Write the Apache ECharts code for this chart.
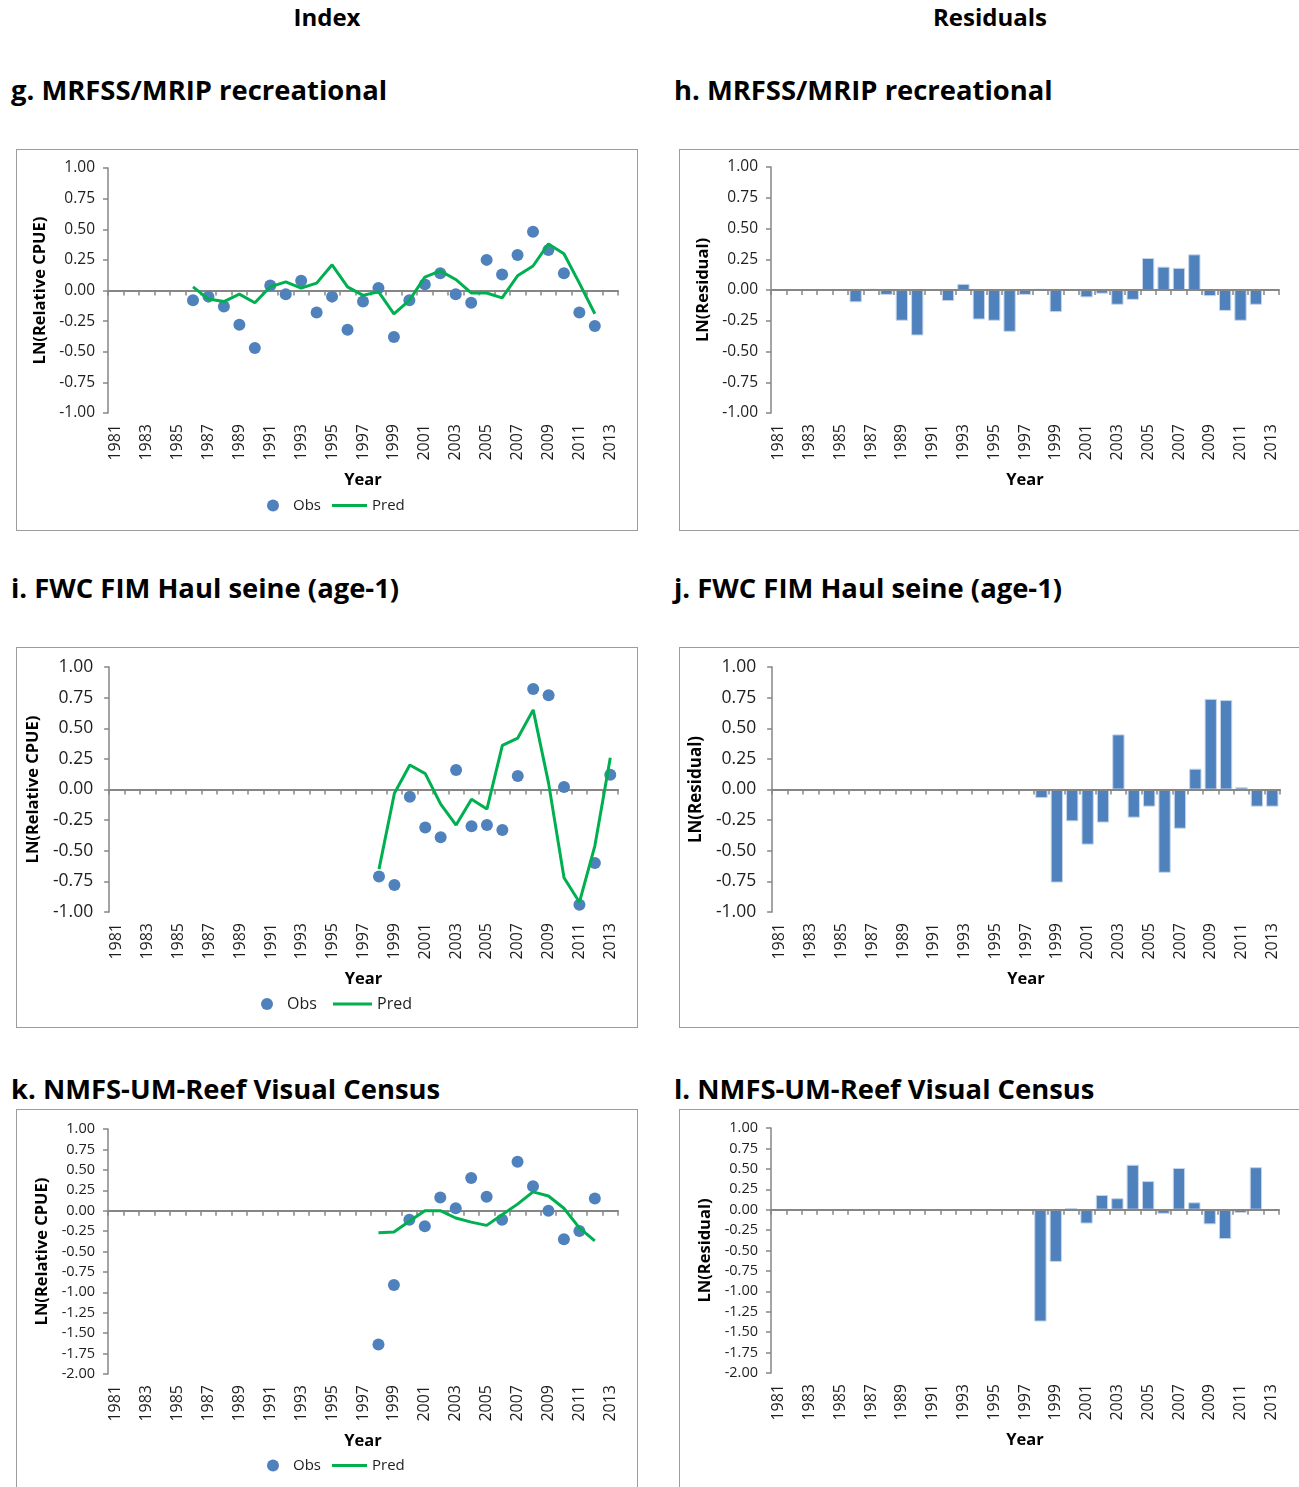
<!DOCTYPE html>
<html>
<head>
<meta charset="utf-8">
<script src="https://cdn.jsdelivr.net/npm/echarts@6/dist/echarts.min.js"></script>
<style>
body { margin: 0; background: #fff; font-family: 'Open Sans', sans-serif; }
#page { position: relative; width: 1299px; height: 1487px; overflow: hidden; }
.hd { position: absolute; width: 240px; text-align: center; font-weight: bold; font-size: 24px; line-height: 30px; top: 2px; color: #000; }
.ttl { position: absolute; font-weight: bold; font-size: 27.4px; line-height: 34px; white-space: nowrap; color: #000; }
.box { position: absolute; border: 1px solid #9c9c9c; box-sizing: border-box; width: 622px; }
</style>
</head>
<body>
<div id="page">
  <div class="hd" style="left:207px">Index</div>
  <div class="hd" style="left:870px">Residuals</div>

  <div class="ttl" style="left:11px;top:73px">g. MRFSS/MRIP recreational</div>
  <div class="ttl" style="left:674px;top:73px">h. MRFSS/MRIP recreational</div>
  <div class="ttl" style="left:11px;top:571px">i. FWC FIM Haul seine (age-1)</div>
  <div class="ttl" style="left:674px;top:571px">j. FWC FIM Haul seine (age-1)</div>
  <div class="ttl" style="left:11px;top:1072px">k. NMFS-UM-Reef Visual Census</div>
  <div class="ttl" style="left:674px;top:1072px">l. NMFS-UM-Reef Visual Census</div>

  <div class="box" id="g" style="left:16px;top:149px;height:382px"></div>
  <div class="box" id="h" style="left:679px;top:149px;height:382px"></div>
  <div class="box" id="i" style="left:16px;top:647px;height:381px"></div>
  <div class="box" id="j" style="left:679px;top:647px;height:381px"></div>
  <div class="box" id="k" style="left:16px;top:1109px;height:400px"></div>
  <div class="box" id="l" style="left:679px;top:1109px;height:400px"></div>
</div>
<script>
// years on the category axis
var years = ['1981','1982','1983','1984','1985','1986','1987','1988','1989','1990','1991',
  '1992','1993','1994','1995','1996','1997','1998','1999','2000','2001','2002','2003',
  '2004','2005','2006','2007','2008','2009','2010','2011','2012','2013'];

// g/h MRFSS/MRIP recreational, 1986-2012
var recStart = 1986;
var recObs = [-0.08, -0.05, -0.13, -0.28, -0.47, 0.04, -0.03, 0.08, -0.18, -0.05, -0.32, -0.09, 0.02,
  -0.38, -0.08, 0.05, 0.14, -0.03, -0.10, 0.25, 0.13, 0.29, 0.48, 0.33, 0.14, -0.18, -0.29];
var recPred = [0.03, -0.07, -0.09, -0.03, -0.10, 0.03, 0.07, 0.02, 0.06, 0.21, 0.03, -0.04, -0.01,
  -0.19, -0.08, 0.11, 0.16, 0.09, -0.02, -0.02, -0.06, 0.12, 0.20, 0.38, 0.30, 0.06, -0.19];
var recResid = [-0.10, 0.01, -0.04, -0.25, -0.37, 0.00, -0.09, 0.05, -0.24, -0.25, -0.34, -0.04, 0.01,
  -0.18, 0.00, -0.06, -0.03, -0.12, -0.08, 0.26, 0.19, 0.18, 0.29, -0.05, -0.17, -0.25, -0.12];

// i/j FWC FIM Haul seine (age-1), 1998-2013
var haulStart = 1998;
var haulObs = [-0.71, -0.78, -0.06, -0.31, -0.39, 0.16, -0.30, -0.29, -0.33, 0.11, 0.82, 0.77, 0.02, -0.94, -0.60, 0.12];
var haulPred = [-0.65, -0.03, 0.20, 0.13, -0.12, -0.29, -0.08, -0.16, 0.36, 0.42, 0.65, 0.05, -0.72, -0.92, -0.46, 0.26];
var haulResid = [-0.07, -0.76, -0.26, -0.45, -0.27, 0.45, -0.23, -0.14, -0.68, -0.32, 0.17, 0.74, 0.73, 0.02, -0.14, -0.14];

// k/l NMFS-UM-Reef Visual Census, 1998-2012
var rvcStart = 1998;
var rvcObs = [-1.64, -0.91, -0.11, -0.19, 0.16, 0.03, 0.40, 0.17, -0.11, 0.60, 0.30, 0.00, -0.35, -0.25, 0.15];
var rvcPred = [-0.27, -0.26, -0.13, 0.00, 0.00, -0.09, -0.14, -0.18, -0.05, 0.08, 0.23, 0.18, 0.03, -0.21, -0.37];
var rvcResid = [-1.37, -0.64, 0.02, -0.17, 0.18, 0.14, 0.55, 0.35, -0.05, 0.51, 0.09, -0.18, -0.36, -0.04, 0.52];

var FONT = 'Open Sans';
var AXIS = '#868686';
var TXT = '#1e1e1e';
var BLUE = '#4f81bd';
var GREEN = '#00b050';

function pad(vals, start) {
    return years.map(function (y) {
        var i = +y - start;
        return (i >= 0 && i < vals.length) ? vals[i] : '-';
    });
}

function makeChart(id, p) {
    var chart = echarts.init(document.getElementById(id));
    var series, legend = [];
    if (p.resid) {
        series = [{
            name: 'Resid',
            type: 'bar',
            barWidth: '80%',
            itemStyle: { color: BLUE, borderColor: '#c6d6ea', borderWidth: 1 },
            data: pad(p.resid, p.start)
        }];
    } else {
        series = [{
            name: 'Obs',
            type: 'scatter',
            symbolSize: 12,
            itemStyle: { color: BLUE, opacity: 1 },
            data: pad(p.obs, p.start)
        }, {
            name: 'Pred',
            type: 'line',
            symbol: 'none',
            lineStyle: { color: GREEN, width: 3 },
            itemStyle: { color: GREEN },
            data: pad(p.pred, p.start)
        }];
        // two legends so the Pred key is a plain line
        legend = [{
            data: ['Obs'],
            left: p.obsLeft,
            top: 343,
            itemWidth: 30,
            itemHeight: 12,
            textStyle: { fontFamily: FONT, fontSize: p.legendSize, color: TXT }
        }, {
            data: [{ name: 'Pred', icon: 'rect' }],
            left: p.predLeft,
            top: 343,
            itemWidth: p.predWidth,
            itemHeight: 3,
            textStyle: { fontFamily: FONT, fontSize: p.legendSize, color: TXT }
        }];
    }
    var option = {
        animation: false,
        textStyle: { fontFamily: FONT },
        grid: p.grid,
        legend: legend,
        xAxis: [{
            type: 'category',
            data: years,
            position: 'bottom',
            z: p.resid ? 5 : 0,
            axisLine: { onZero: true, lineStyle: { color: AXIS, width: 2 } },
            axisTick: { show: true, interval: 0, length: 5, lineStyle: { color: AXIS, width: 1.5 } },
            axisLabel: { show: false },
            splitLine: { show: false }
        }, {
            type: 'category',
            data: years,
            position: 'bottom',
            axisLine: { show: false, onZero: false },
            axisTick: { show: false },
            axisLabel: { interval: 1, rotate: 90, margin: 11, fontSize: p.xSize, color: TXT },
            name: 'Year',
            nameLocation: 'middle',
            nameGap: 59,
            nameTextStyle: { fontWeight: 'bold', fontSize: 16.5, color: '#000' }
        }],
        yAxis: {
            type: 'value',
            min: p.min,
            max: 1,
            interval: 0.25,
            axisLine: { show: true, onZero: false, lineStyle: { color: AXIS, width: 1.5 } },
            axisTick: { show: true, length: 5, lineStyle: { color: AXIS, width: 1.5 } },
            splitLine: { show: false },
            axisLabel: {
                margin: p.yMargin,
                fontSize: p.ySize,
                color: TXT,
                formatter: function (v) { return v.toFixed(2); }
            },
            name: p.yName,
            nameLocation: 'middle',
            nameGap: p.nameGap,
            nameTextStyle: { fontWeight: 'bold', fontSize: p.nameSize, color: '#000' }
        },
        series: series
    };
    chart.setOption(option);
    return chart;
}

makeChart('g', {
    grid: { left: 91, top: 18, width: 510, height: 245 },
    obs: recObs, pred: recPred, start: recStart, min: -1,
    yName: 'LN(Relative CPUE)', nameGap: 56, nameSize: 16.5, ySize: 15.5, yMargin: 13, xSize: 16,
    legendSize: 15, obsLeft: 245, predLeft: 310, predWidth: 35
});
makeChart('h', {
    grid: { left: 91, top: 17, width: 508, height: 246 },
    resid: recResid, start: recStart, min: -1,
    yName: 'LN(Residual)', nameGap: 56, nameSize: 16.5, ySize: 15.5, yMargin: 13, xSize: 16
});
makeChart('i', {
    grid: { left: 90, top: 19, width: 511, height: 245 },
    obs: haulObs, pred: haulPred, start: haulStart, min: -1,
    yName: 'LN(Relative CPUE)', nameGap: 62, nameSize: 16.5, ySize: 17.5, yMargin: 16, xSize: 16,
    legendSize: 16, obsLeft: 239, predLeft: 311, predWidth: 39
});
makeChart('j', {
    grid: { left: 91, top: 19, width: 509, height: 245 },
    resid: haulResid, start: haulStart, min: -1,
    yName: 'LN(Residual)', nameGap: 62, nameSize: 17, ySize: 17.5, yMargin: 16, xSize: 16
});
makeChart('k', {
    grid: { left: 91, top: 19, width: 510, height: 245 },
    obs: rvcObs, pred: rvcPred, start: rvcStart, min: -2,
    yName: 'LN(Relative CPUE)', nameGap: 57, nameSize: 16.5, ySize: 14.5, yMargin: 13, xSize: 16,
    legendSize: 15, obsLeft: 245, predLeft: 310, predWidth: 35
});
makeChart('l', {
    grid: { left: 91, top: 18, width: 508, height: 245 },
    resid: rvcResid, start: rvcStart, min: -2,
    yName: 'LN(Residual)', nameGap: 56, nameSize: 16.5, ySize: 14.5, yMargin: 13, xSize: 16
});
</script>
</body>
</html>
